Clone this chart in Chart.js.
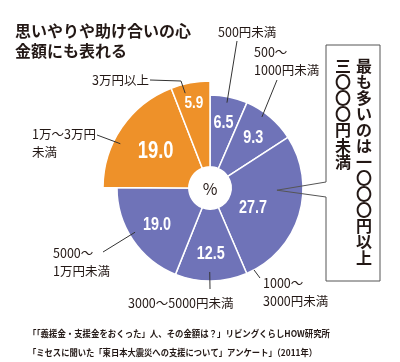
<!DOCTYPE html>
<html>
<head>
<meta charset="utf-8">
<script src="https://cdn.jsdelivr.net/npm/chart.js@4.4.1/dist/chart.umd.min.js"></script>
<style>
  html, body { margin: 0; padding: 0; background: #fff; }
  #wrap { width: 400px; height: 362px; }
</style>
</head>
<body>
<div id="wrap"><canvas id="chart" width="400" height="362"></canvas></div>
<script>
// データ
var categories = ['500円未満', '500〜\n1000円未満', '1000〜\n3000円未満', '3000〜5000円未満', '5000〜\n1万円未満', '1万〜3万円\n未満', '3万円以上'];
var values = [6.5, 9.3, 27.7, 12.5, 19.0, 19.0, 5.9];
var highlighted = [false, false, false, false, false, true, true];
var titleLines = ['思いやりや助け合いの心', '金額にも表れる'];
var calloutLines = ['最も多いのは一〇〇〇円以上', '三〇〇〇円未満'];
var sourceLines = [
  '「「義援金・支援金をおくった」人、その金額は？」リビングくらしHOW研究所',
  '「ミセスに聞いた「東日本大震災への支援について」アンケート」（2011年）'
];
var centerLabel = '%';

// 見た目
var PURPLE = '#6f73b8';
var ORANGE = '#ee9129';
var TEXT = '#231815';
var R = 93, R_BIG = 107, HOLE = 21;
var JP = '"Noto Sans CJK JP", "Noto Sans", sans-serif';
var NUM = '"Liberation Sans", "DejaVu Sans", sans-serif';

// 数値ラベルの位置（スライス内の角度比 t と半径 r）
var valuePos = [
  { t: 0.5, r: 67, size: 18 },
  { t: 0.5, r: 67, size: 18 },
  { t: 0.57, r: 47, size: 18 },
  { t: 0.5, r: 65, size: 18 },
  { t: 0.5, r: 64, size: 18 },
  { t: 0.5, r: 66, size: 23 },
  { t: 0.5, r: 87, size: 17 }
];

// 引き出し線と項目名
var leaders = [
  { t: 0.48, r: 87, pts: [[237, 41]], text: [218, 32] },
  { t: 0.38, r: 88, pts: [[277, 80]], text: [254, 52] },
  { t: 0.95, r: 93, pts: [[260, 278]], text: [263, 283] },
  { t: 0.52, r: 84, pts: [[210, 289]], text: [128, 303] },
  { t: 0.55, r: 87, pts: [[103, 252]], text: [53, 253] },
  { t: 0.38, r: 100, pts: [[97, 135]], text: [32, 134] },
  { t: 0.31, r: 98, pts: [[150, 80], [181, 81]], text: [92, 80] }
];

function arcPoint(arc, t, r) {
  var a = arc.startAngle + (arc.endAngle - arc.startAngle) * t;
  return [arc.x + Math.cos(a) * r, arc.y + Math.sin(a) * r];
}

// 橙色のスライスだけ外径を大きくする
var bigSlices = {
  id: 'bigSlices',
  afterDatasetsUpdate: function (chart) {
    var meta = chart.getDatasetMeta(0);
    meta.data.forEach(function (arc, i) {
      if (highlighted[i]) arc.outerRadius = R_BIG;
    });
  }
};

var annotations = {
  id: 'annotations',
  afterDraw: function (chart) {
    var ctx = chart.ctx;
    var arcs = chart.getDatasetMeta(0).data;
    ctx.save();

    // タイトル
    ctx.fillStyle = TEXT;
    ctx.textBaseline = 'middle';
    ctx.textAlign = 'left';
    ctx.font = 'bold 16px ' + JP;
    ctx.fillText(titleLines[0], 15, 31, 176);
    ctx.fillText(titleLines[1], 15, 51);

    // 数値（縦長の書体に見せるため横方向を詰める）
    ctx.fillStyle = '#fff';
    ctx.textAlign = 'center';
    arcs.forEach(function (arc, i) {
      var p = valuePos[i];
      var xy = arcPoint(arc, p.t, p.r);
      ctx.save();
      ctx.translate(xy[0], xy[1] + 1);
      ctx.scale(0.8, 1);
      ctx.font = 'bold ' + p.size + 'px ' + NUM;
      ctx.fillText(values[i].toFixed(1), 0, 0);
      ctx.restore();
    });

    // 中央の%
    ctx.fillStyle = TEXT;
    ctx.font = '16px ' + JP;
    ctx.fillText(centerLabel, arcs[0].x, arcs[0].y + 1);

    // 引き出し線と項目名
    ctx.strokeStyle = '#333';
    ctx.lineWidth = 1;
    ctx.textAlign = 'left';
    ctx.font = '12.5px ' + JP;
    leaders.forEach(function (l, i) {
      var a = arcPoint(arcs[i], l.t, l.r);
      ctx.beginPath();
      ctx.moveTo(l.pts[0][0], l.pts[0][1]);
      for (var k = 1; k < l.pts.length; k++) ctx.lineTo(l.pts[k][0], l.pts[k][1]);
      ctx.lineTo(a[0], a[1]);
      ctx.stroke();
      categories[i].split('\n').forEach(function (line, j) {
        ctx.fillText(line, l.text[0], l.text[1] + j * 18);
      });
    });

    // 吹き出し
    var tip = arcPoint(arcs[2], 0.35, 67);
    ctx.strokeStyle = '#555';
    ctx.beginPath();
    ctx.moveTo(326, 197);
    ctx.lineTo(326, 281);
    ctx.lineTo(380, 281);
    ctx.lineTo(380, 45);
    ctx.lineTo(326, 45);
    ctx.lineTo(326, 182);
    ctx.lineTo(tip[0], tip[1]);
    ctx.closePath();
    ctx.stroke();

    // 縦書き
    ctx.fillStyle = TEXT;
    ctx.font = 'bold 16px ' + JP;
    ctx.textAlign = 'center';
    var cols = [364, 343];
    calloutLines.forEach(function (line, c) {
      Array.from(line).forEach(function (ch, k) {
        ctx.fillText(ch, cols[c], 66 + k * 16);
      });
    });

    // 出典
    ctx.textAlign = 'left';
    ctx.font = 'bold 9px ' + JP;
    ctx.fillText(sourceLines[0], 28, 334, 302);
    ctx.fillText(sourceLines[1], 28, 353, 289);

    ctx.restore();
  }
};

new Chart(document.getElementById('chart'), {
  type: 'doughnut',
  data: {
    labels: categories,
    datasets: [{
      data: values,
      backgroundColor: values.map(function (v, i) { return highlighted[i] ? ORANGE : PURPLE; }),
      borderColor: '#fff',
      borderWidth: 1.5
    }]
  },
  options: {
    responsive: false,
    animation: false,
    rotation: 0,
    radius: R,
    cutout: HOLE,
    layout: { padding: { left: 117, right: 97, top: 95, bottom: 81 } },
    plugins: { legend: { display: false }, tooltip: { enabled: false } }
  },
  plugins: [bigSlices, annotations]
});
</script>
</body>
</html>
